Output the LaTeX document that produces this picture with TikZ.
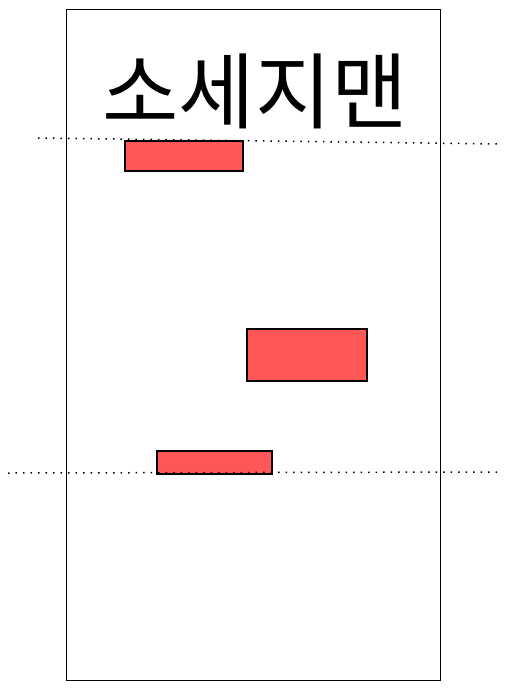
\documentclass[tikz,border=0pt]{standalone}
\usepackage{fontspec}
\newfontfamily\kofont{Noto Sans CJK KR}
\definecolor{barred}{RGB}{255,87,87}
\begin{document}
\begin{tikzpicture}[x=1pt,y=-1pt,bar/.style={draw=black,fill=barred,line width=1.3pt},guide/.style={dash pattern=on 1.5pt off 6pt,line width=1.5pt}]
\useasboundingbox (0,0) rectangle (510,690);
\draw[line width=1pt] (66,10) rectangle (440,680);
\node[font=\kofont\fontsize{83}{86}\selectfont,inner sep=0pt] (title) at (255,91) {소세지맨};
\draw[bar] (125,141) rectangle (243,171);
\draw[bar] (247,329) rectangle (367,381);
\draw[bar] (157,451) rectangle (272,474);
\draw[guide] (38,138) -- (500,144);
\draw[guide] (8,473) -- (497,472);
\end{tikzpicture}
\end{document}
